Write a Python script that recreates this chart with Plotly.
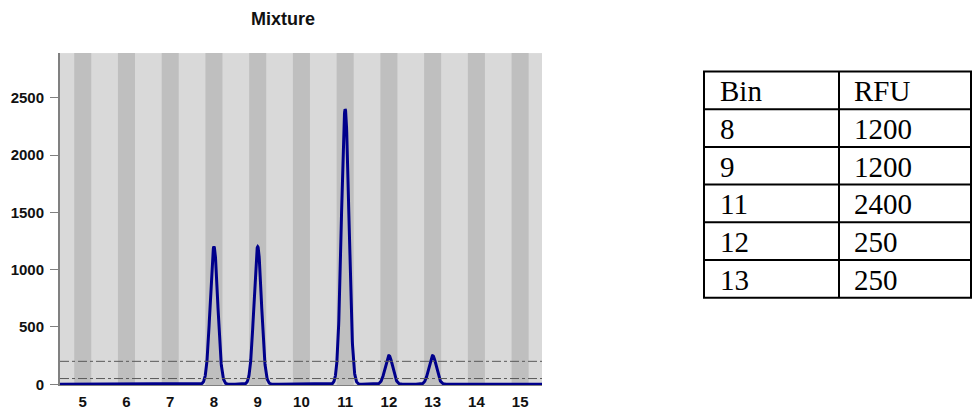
import numpy as np
import plotly.graph_objects as go

# ---- data ----
bins = [8, 9, 11, 12, 13]
rfu = [1200, 1200, 2400, 250, 250]
x_ticks = [5, 6, 7, 8, 9, 10, 11, 12, 13, 14, 15]
y_ticks = [0, 500, 1000, 1500, 2000, 2500]
thresholds = [200, 50]
table_header = ["Bin", "RFU"]
title_text = "Mixture"

# ---- geometry (pixels) ----
W, H = 972, 417
PL, PR, PT, PB = 60, 542, 54, 392
X_RANGE = [4.48, 15.5]
Y_RANGE = [-10, 2889]
PEAK_SIGMA = 0.085

def px(x):
    return x / W

def py(y):
    return 1 - y / H

# electropherogram trace built from the peak table
xs = np.linspace(X_RANGE[0], X_RANGE[1], 3000)
ys = np.zeros_like(xs)
for b, h in zip(bins, rfu):
    ys += h * np.exp(-0.5 * ((xs - b) / PEAK_SIGMA) ** 2)

fig = go.Figure()

shapes = []
# bin bands
for t in x_ticks:
    shapes.append(dict(type="rect", xref="x", yref="paper",
                       x0=t - 0.195, x1=t + 0.195,
                       y0=py(PB), y1=py(PT),
                       fillcolor="#bfbfbf", line=dict(width=0), layer="below"))
# threshold lines
for th in thresholds:
    shapes.append(dict(type="line", xref="paper", yref="y",
                       x0=px(PL), x1=px(PR), y0=th, y1=th,
                       line=dict(color="#5a5a5a", width=1, dash="dashdot")))

fig.add_trace(go.Scatter(x=xs, y=ys, mode="lines",
                         line=dict(color="#00008b", width=3),
                         hoverinfo="skip", showlegend=False))

# ---- table ----
TL, TM, TR = 704, 839, 971
TT, RH = 72.7, 38.35
rows = [table_header] + [[str(b), str(r)] for b, r in zip(bins, rfu)]
nrows = len(rows)
TB = TT + RH * nrows
for i in range(nrows + 1):
    yy = TT + RH * i
    shapes.append(dict(type="line", xref="paper", yref="paper",
                       x0=px(TL - 1), x1=px(TR + 1), y0=py(yy), y1=py(yy),
                       line=dict(color="black", width=2)))
for xx in (TL, TM, TR):
    shapes.append(dict(type="line", xref="paper", yref="paper",
                       x0=px(xx), x1=px(xx), y0=py(TT), y1=py(TB),
                       line=dict(color="black", width=2)))

annotations = []
for i, row in enumerate(rows):
    yc = TT + RH * i + RH / 2 + 1
    for xx, txt in zip((718, 852), row):
        annotations.append(dict(x=px(xx), y=py(yc), xref="paper", yref="paper",
                                text=txt, showarrow=False, xanchor="left",
                                yanchor="middle",
                                font=dict(family="Liberation Serif", size=29,
                                          color="black")))

annotations.append(dict(x=px(283), y=py(19), xref="paper", yref="paper",
                        text="<b>" + title_text + "</b>", showarrow=False,
                        xanchor="center", yanchor="middle",
                        font=dict(family="Liberation Sans", size=18,
                                  color="#111111")))

fig.update_layout(
    width=W, height=H,
    margin=dict(l=0, r=0, t=0, b=0),
    paper_bgcolor="white",
    plot_bgcolor="#d9d9d9",
    shapes=shapes,
    annotations=annotations,
    showlegend=False,
    xaxis=dict(domain=[px(PL), px(PR)], range=X_RANGE,
               tickvals=x_ticks, ticktext=[str(t) for t in x_ticks],
               showgrid=False, zeroline=False,
               showline=True, linecolor="#808080", linewidth=1,
               ticks="", ticklabelstandoff=3,
               tickfont=dict(family="Liberation Sans", size=15, color="#111111",
                             weight="bold")),
    yaxis=dict(domain=[py(PB), py(PT)], range=Y_RANGE,
               tickvals=y_ticks, ticktext=[str(t) for t in y_ticks],
               showgrid=False, zeroline=False,
               showline=True, linecolor="#808080", linewidth=2,
               ticks="outside", ticklen=8, tickcolor="#808080", tickwidth=1,
               ticklabelstandoff=3,
               tickfont=dict(family="Liberation Sans", size=15, color="#111111",
                             weight="bold")),
)

fig.write_html("out.html")
